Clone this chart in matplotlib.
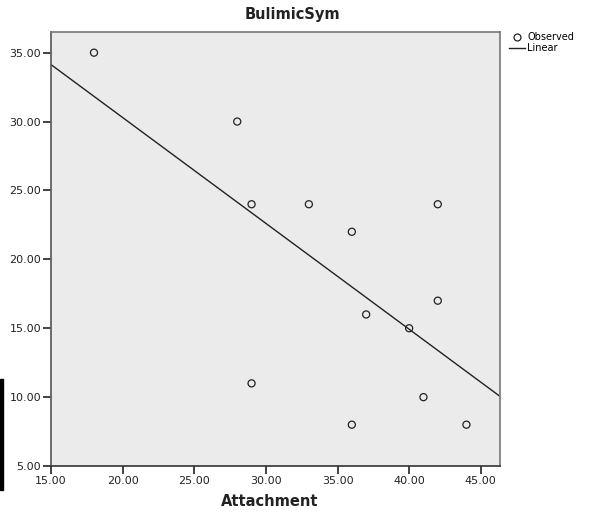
import numpy as np
import matplotlib
matplotlib.use('Agg')
import matplotlib.pyplot as plt
from matplotlib.lines import Line2D

# ==== dados ====
attachment = [18, 28, 29, 33, 36, 42, 42, 37, 40, 29, 41, 36, 44]
bulimic = [35, 30, 24, 24, 22, 24, 17, 16, 15, 11, 10, 8, 8]
xticks = [15, 20, 25, 30, 35, 40, 45]
yticks = [5, 10, 15, 20, 25, 30, 35]

fig = plt.figure(figsize=(5.96, 5.12), dpi=100)
ax = fig.add_axes([0.0856, 0.0898, 0.753, 0.8477])
ax.set_facecolor('#EBEBEB')

xmin, xmax = 15, 46.33
ymin, ymax = 5, 36.5

# reta de regressao
coef = np.polyfit(attachment, bulimic, 1)
xs = np.array([xmin, xmax])
ax.plot(xs, np.polyval(coef, xs), color='#222222', lw=1.0, zorder=2)
ax.scatter(attachment, bulimic, s=26, facecolors='none', edgecolors='#222222',
           linewidths=0.9, zorder=3)

ax.set_xlim(xmin, xmax)
ax.set_ylim(ymin, ymax)
ax.set_xticks(xticks)
ax.set_yticks(yticks)
ax.set_xticklabels([f"{v:.2f}" for v in xticks])
ax.set_yticklabels([f"{v:.2f}" for v in yticks])
ax.tick_params(axis='both', direction='out', length=6, width=1.2, colors='#222222',
               labelsize=8, pad=1)
ax.spines['left'].set_color('#555555')
ax.spines['bottom'].set_color('#333333')
ax.spines['top'].set_color('#777777')
ax.spines['right'].set_color('#777777')
for s in ax.spines.values():
    s.set_linewidth(1.2)

fig.text(292/596, 1 - 15/512, 'BulimicSym', ha='center', va='center',
         fontsize=10.5, fontweight='bold', color='#222222')
fig.text(270/596, 1 - 502/512, 'Attachment', ha='center', va='center',
         fontsize=10.5, fontweight='bold', color='#222222')

# legenda
handles = [Line2D([], [], ls='none', marker='o', mfc='none', mec='#222222', ms=5, mew=0.9),
           Line2D([], [], color='#222222', lw=1.0)]
leg = fig.legend(handles, ['Observed', 'Linear'], loc='upper left',
                 bbox_to_anchor=(509/596, 1 - 32/512), frameon=False, fontsize=7,
                 handlelength=1.6, handletextpad=0.3, labelspacing=0.1,
                 borderaxespad=0, borderpad=0)

# barra preta no canto esquerdo
fig.patches.append(plt.Rectangle((0, 1 - 490/512), 3/596, 111/512,
                                 transform=fig.transFigure, color='black'))

fig.savefig('out.png', dpi=100)
